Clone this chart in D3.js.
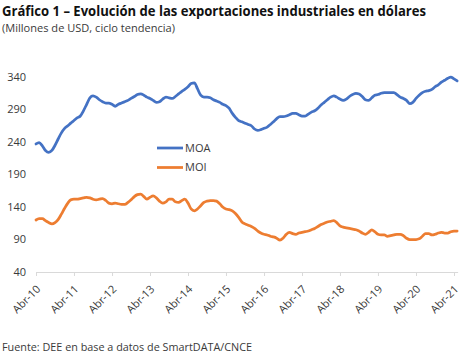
<!DOCTYPE html>
<html>
<head>
<meta charset="utf-8">
<script src="https://cdn.jsdelivr.net/npm/d3@7"></script>
<style>
  body { margin: 0; background: #fff; }
  svg { display: block; }
  text { font-family: "Open Sans", sans-serif; fill: #3a3a3a; }
</style>
</head>
<body>
<script>
// monthly series, Apr-2010 .. May-2021 (millones de USD, ciclo tendencia)
const firstMonth = new Date(2010, 3, 1);

const moa = [
  237, 239, 234, 227, 224, 227, 235, 245, 254, 261, 265, 269,
  273, 277, 280, 288, 298, 308, 311, 309, 305, 302, 300, 300,
  298, 295, 298, 300, 302, 304, 307, 310, 313, 314, 312, 309,
  307, 304, 301, 302, 306, 309, 308, 307, 310, 314, 318, 321,
  325, 330, 331, 322, 312, 309, 309, 308, 305, 303, 301, 298,
  296, 292, 284, 278, 273, 271, 269, 267, 265, 260, 258, 259,
  261, 263, 267, 271, 276, 279, 279, 280, 282, 284, 284, 282,
  280, 280, 283, 286, 288, 292, 297, 301, 305, 309, 311, 309,
  306, 304, 306, 310, 313, 315, 314, 310, 305, 304, 308, 312,
  313, 315, 316, 316, 316, 316, 313, 309, 307, 304, 299, 301,
  307, 312, 316, 318, 319, 321, 325, 328, 332, 335, 338, 340,
  337, 334
];

const moi = [
  120, 122, 122, 119, 116, 114, 116, 121, 129, 138, 146, 151,
  152, 152, 153, 154, 155, 154, 152, 151, 152, 153, 150, 146,
  145, 146, 145, 144, 144, 147, 151, 156, 159, 160, 156, 152,
  155, 157, 154, 149, 146, 148, 152, 152, 148, 147, 150, 152,
  146, 137, 134, 137, 142, 147, 149, 150, 150, 149, 145, 140,
  137, 136, 134, 130, 124, 117, 114, 112, 110, 107, 103, 100,
  98, 97, 95, 94, 92, 89, 92, 98, 101, 99, 98, 100,
  101, 102, 103, 105, 107, 110, 113, 115, 117, 118, 119, 116,
  111, 109, 108, 107, 106, 105, 103, 100, 98, 101, 105, 102,
  98, 97, 97, 95, 96, 97, 98, 98, 96, 92, 90, 90,
  90, 91, 95, 99, 99, 97, 98, 100, 101, 100, 100, 102,
  103, 103
];

const seriesNames = ["MOA", "MOI"];
const seriesColors = ["#4472c4", "#ed7d31"];
const yTicks = [40, 90, 140, 190, 240, 290, 340];
const xTickLabels = ["Abr-10", "Abr-11", "Abr-12", "Abr-13", "Abr-14", "Abr-15",
                     "Abr-16", "Abr-17", "Abr-18", "Abr-19", "Abr-20", "Abr-21"];

const width = 463, height = 354;

const svg = d3.select("body").append("svg")
  .attr("width", width)
  .attr("height", height);

// titles
svg.append("text")
  .attr("x", 2).attr("y", 16)
  .attr("font-size", 14).attr("font-weight", "bold")
  .style("fill", "#111")
  .attr("textLength", 424).attr("lengthAdjust", "spacingAndGlyphs")
  .text("Gráfico 1 – Evolución de las exportaciones industriales en dólares");

svg.append("text")
  .attr("x", 2).attr("y", 32)
  .attr("font-size", 11)
  .attr("textLength", 173).attr("lengthAdjust", "spacingAndGlyphs")
  .text("(Millones de USD, ciclo tendencia)");

svg.append("text")
  .attr("x", 2).attr("y", 351)
  .attr("font-size", 11)
  .attr("textLength", 250).attr("lengthAdjust", "spacingAndGlyphs")
  .text("Fuente: DEE en base a datos de SmartDATA/CNCE");

const dates = moa.map((_, i) => d3.timeMonth.offset(firstMonth, i));
const tickDates = xTickLabels.map((_, i) => d3.timeYear.offset(firstMonth, i));

const x = d3.scaleTime()
  .domain([firstMonth, tickDates[tickDates.length - 1]])
  .range([36, 454]);

const y = d3.scaleLinear()
  .domain([40, 340])
  .range([272, 77]);

// y labels (no axis line)
svg.append("g")
  .selectAll("text")
  .data(yTicks)
  .join("text")
  .attr("x", 26)
  .attr("y", d => y(d))
  .attr("dy", "0.35em")
  .attr("text-anchor", "end")
  .attr("font-size", 11)
  .text(d => d);

// x axis
const xAxis = svg.append("g")
  .attr("transform", `translate(0,${y(40)})`)
  .call(d3.axisBottom(x)
    .tickValues(tickDates)
    .tickSize(4)
    .tickFormat((d, i) => xTickLabels[i]));

xAxis.select(".domain")
  .attr("d", `M${x(firstMonth)},0.5H${x(dates[dates.length - 1]) + 1}`)
  .attr("stroke", "#d9d9d9");
xAxis.selectAll(".tick line").attr("stroke", "#d9d9d9");
xAxis.selectAll(".tick text")
  .attr("font-family", "Open Sans, sans-serif")
  .attr("font-size", 11)
  .style("fill", "#3a3a3a")
  .attr("text-anchor", "end")
  .attr("x", 0)
  .attr("y", 0)
  .attr("dy", "0.35em")
  .attr("transform", "translate(2,15) rotate(-45)");

// lines
const line = d3.line()
  .x((d, i) => x(dates[i]))
  .y(d => y(d))
  .curve(d3.curveMonotoneX);

[moa, moi].forEach((values, k) => {
  svg.append("path")
    .datum(values)
    .attr("fill", "none")
    .attr("stroke", seriesColors[k])
    .attr("stroke-width", 2.75)
    .attr("stroke-linejoin", "round")
    .attr("stroke-linecap", "round")
    .attr("d", line);
});

// legend
const legend = svg.append("g").attr("transform", "translate(157,148)");
seriesNames.forEach((name, k) => {
  const row = legend.append("g").attr("transform", `translate(0,${k * 19.5})`);
  row.append("line")
    .attr("x1", 0).attr("x2", 26)
    .attr("stroke", seriesColors[k])
    .attr("stroke-width", 2.75);
  row.append("text")
    .attr("x", 28).attr("dy", "0.35em")
    .attr("font-size", 11)
    .text(name);
});
</script>
</body>
</html>
